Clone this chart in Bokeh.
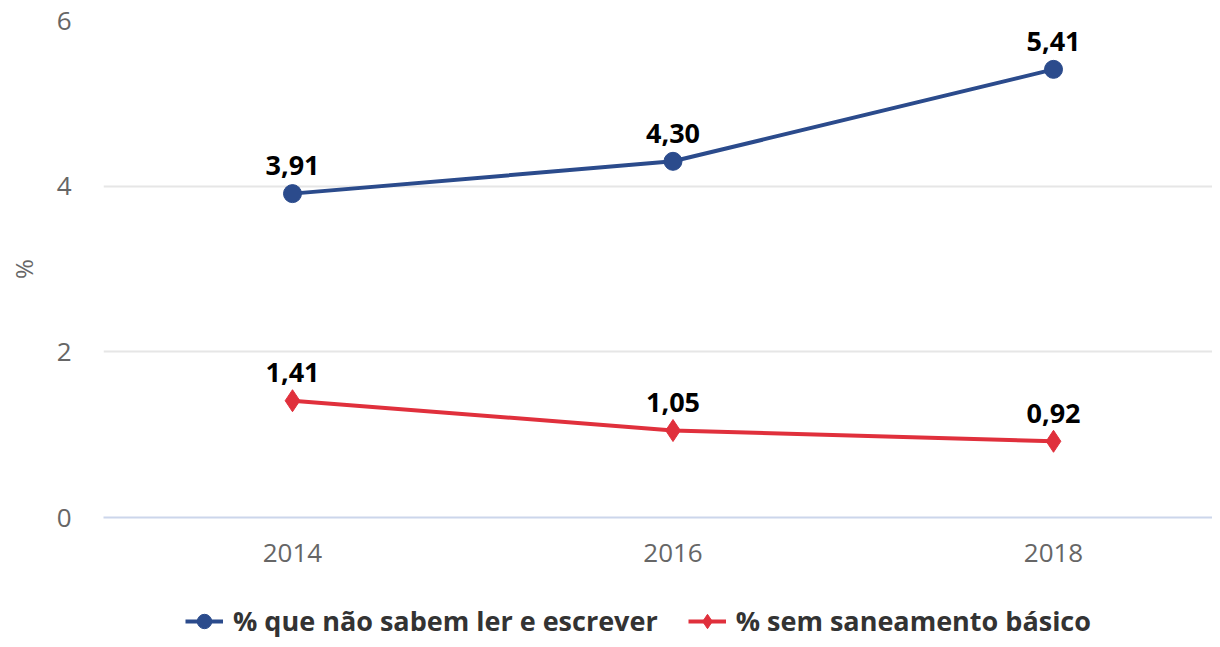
from bokeh.plotting import figure
from bokeh.models import ColumnDataSource, FixedTicker, Legend, LegendItem, Range1d
from bokeh.layouts import column
from bokeh.core.properties import value
from bokeh.embed import file_html
from bokeh.resources import INLINE

years = [2014, 2016, 2018]
analfabetos = [3.91, 4.30, 5.41]
sem_saneamento = [1.41, 1.05, 0.92]
labels_analf = ["3,91", "4,30", "5,41"]
labels_san = ["1,41", "1,05", "0,92"]
series_names = ["% que não sabem ler e escrever", "% sem saneamento básico"]
y_ticks = [0, 2, 4, 6]

BLUE = "#2b4b8c"
RED = "#e0303c"
FONT = "Open Sans"

src_a = ColumnDataSource(dict(x=years, y=analfabetos, t=labels_analf))
src_s = ColumnDataSource(dict(x=years, y=sem_saneamento, t=labels_san))

p = figure(width=1212, height=590, output_backend="svg", toolbar_location=None,
           x_range=Range1d(2013.0066, 2018.8357), y_range=Range1d(0, 6),
           min_border_left=103, min_border_right=0, min_border_top=20, min_border_bottom=73)
p.outline_line_color = None
p.background_fill_color = "white"
p.border_fill_color = "white"

def draw_series(fig):
    la = fig.line("x", "y", source=src_a, line_color=BLUE, line_width=4)
    sa = fig.scatter("x", "y", source=src_a, marker="circle", size=18, fill_color=BLUE, line_color=BLUE)
    ls = fig.line("x", "y", source=src_s, line_color=RED, line_width=4)
    ss = fig.scatter("x", "y", source=src_s, marker="diamond", size=22, fill_color=RED, line_color=RED)
    return la, sa, ls, ss

draw_series(p)

for s in (src_a, src_s):
    p.text("x", "y", text="t", source=s, text_align="center", text_baseline="alphabetic",
           y_offset=-28, text_font=value(FONT), text_font_style="bold",
           text_font_size="27px", text_color="#000000")

# axes
p.xaxis.ticker = FixedTicker(ticks=years)
p.xaxis.axis_line_color = "#ccd6eb"
p.xaxis.axis_line_width = 2
p.xaxis.major_tick_line_color = None
p.xaxis.minor_tick_line_color = None
p.xaxis.major_label_text_font = FONT
p.xaxis.major_label_text_font_size = "26px"
p.xaxis.major_label_text_color = "#666666"
p.xaxis.major_label_standoff = 20

p.yaxis.ticker = FixedTicker(ticks=y_ticks)
p.yaxis.axis_line_color = None
p.yaxis.major_tick_line_color = None
p.yaxis.minor_tick_line_color = None
p.yaxis.major_label_text_font = FONT
p.yaxis.major_label_text_font_size = "26px"
p.yaxis.major_label_text_color = "#666666"
p.yaxis.major_label_standoff = 26
p.yaxis.axis_label = "%"
p.yaxis.axis_label_text_font = FONT
p.yaxis.axis_label_text_font_style = "normal"
p.yaxis.axis_label_text_font_size = "24px"
p.yaxis.axis_label_text_color = "#666666"
p.yaxis.axis_label_standoff = 14

p.xgrid.grid_line_color = None
p.ygrid.ticker = FixedTicker(ticks=y_ticks)
p.ygrid.grid_line_color = "#e6e6e6"
p.ygrid.grid_line_width = 2

# legend strip below the chart (same series, plotted out of view so only the legend shows)
lg = figure(width=1212, height=49, output_backend="svg", toolbar_location=None,
            x_range=Range1d(0, 1), y_range=Range1d(0, 1), x_axis_type=None, y_axis_type=None,
            min_border_left=0, min_border_right=0, min_border_top=0, min_border_bottom=0)
lg.outline_line_color = None
lg.xgrid.grid_line_color = None
lg.ygrid.grid_line_color = None
la, sa, ls, ss = draw_series(lg)

legend = Legend(items=[LegendItem(label=series_names[0], renderers=[la, sa]),
                       LegendItem(label=series_names[1], renderers=[ls, ss])],
                orientation="horizontal", location=(82, 0),
                label_text_font=FONT, label_text_font_style="bold",
                label_text_font_size="27px", label_text_color="#333333",
                glyph_width=38, glyph_height=36, spacing=30, label_standoff=10,
                border_line_color=None, background_fill_alpha=0, padding=0, margin=0)
lg.add_layout(legend, "center")

layout = column(p, lg, spacing=0)
open("out.html", "w").write(file_html(layout, INLINE))
